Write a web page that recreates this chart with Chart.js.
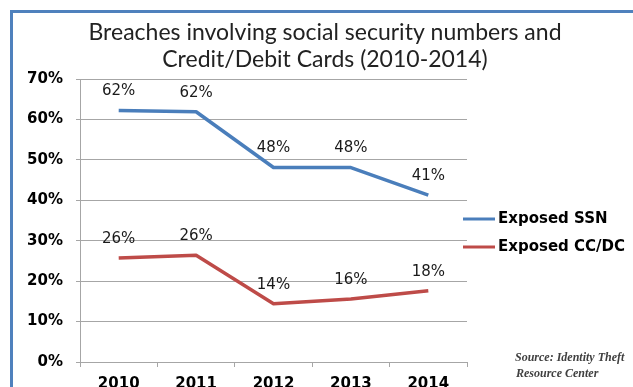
<!DOCTYPE html>
<html lang="en">
<head>
<meta charset="UTF-8">
<title>Breaches involving SSN and Credit/Debit Cards</title>
<script src="https://cdn.jsdelivr.net/npm/chart.js@4"></script>
<style>
    body { margin: 0; background: #fff; }
    .wrap { position: relative; width: 633px; height: 387px; overflow: hidden; background: #fff; }
    .frame { position: absolute; left: 10px; top: 10px; right: -10px; bottom: -10px; border-top: 3px solid #4f81bd; border-left: 3px solid #4f81bd; pointer-events: none; }
    canvas { display: block; }
</style>
</head>
<body>
<div class="wrap">
    <canvas id="chart" width="633" height="387"></canvas>
    <div class="frame"></div>
</div>
<script>
    const years = ['2010', '2011', '2012', '2013', '2014'];
    const ssnValues = [62.2, 61.9, 48.1, 48.1, 41.3];
    const ccValues = [25.7, 26.4, 14.4, 15.6, 17.6];
    const ssnText = ['62%', '62%', '48%', '48%', '41%'];
    const ccText = ['26%', '26%', '14%', '16%', '18%'];
    const yTickLabels = ['0%', '10%', '20%', '30%', '40%', '50%', '60%', '70%'];
    const titleLines = ['Breaches involving social security numbers and', 'Credit/Debit Cards (2010-2014)'];
    const sourceLines = ['Source: Identity Theft', 'Resource Center'];

    const axisFont = { family: 'DejaVu Sans', size: 15, weight: 'bold' };
    const gridGray = '#a6a6a6';

    // value labels above each point
    const pointText = {
        id: 'pointText',
        afterDatasetsDraw(chart) {
            const ctx = chart.ctx;
            ctx.save();
            ctx.font = '15px "DejaVu Sans"';
            ctx.fillStyle = '#1a1a1a';
            ctx.textAlign = 'center';
            ctx.textBaseline = 'middle';
            chart.data.datasets.forEach((ds, i) => {
                chart.getDatasetMeta(i).data.forEach((pt, j) => {
                    ctx.fillText(ds.pointText[j], pt.x, pt.y - 19);
                });
            });
            ctx.restore();
        }
    };

    // title, legend and source note
    const extras = {
        id: 'extras',
        afterDraw(chart) {
            const ctx = chart.ctx;
            ctx.save();
            ctx.fillStyle = '#222';
            ctx.textAlign = 'center';
            ctx.textBaseline = 'middle';
            ctx.font = '23px Lato';
            ctx.fillText(titleLines[0], 325, 33);
            ctx.fillText(titleLines[1], 325, 60);

            ctx.textAlign = 'left';
            ctx.font = axisFont.weight + ' ' + axisFont.size + 'px "' + axisFont.family + '"';
            chart.data.datasets.forEach((ds, i) => {
                const y = 219 + i * 28;
                ctx.strokeStyle = ds.borderColor;
                ctx.lineWidth = 3;
                ctx.beginPath();
                ctx.moveTo(463, y);
                ctx.lineTo(495, y);
                ctx.stroke();
                ctx.fillStyle = '#000';
                ctx.fillText(ds.label, 498, y);
            });

            ctx.font = 'italic bold 12px "Liberation Serif"';
            ctx.fillStyle = '#404040';
            ctx.fillText(sourceLines[0], 515, 358);
            ctx.fillText(sourceLines[1], 516, 374);
            ctx.restore();
        }
    };

    new Chart(document.getElementById('chart'), {
        type: 'line',
        data: {
            labels: years,
            datasets: [
                { label: 'Exposed SSN', data: ssnValues, pointText: ssnText, borderColor: '#4a7ebb', borderWidth: 3.5, pointRadius: 0, tension: 0, borderJoinStyle: 'round' },
                { label: 'Exposed CC/DC', data: ccValues, pointText: ccText, borderColor: '#be4b48', borderWidth: 3.5, pointRadius: 0, tension: 0, borderJoinStyle: 'round' }
            ]
        },
        options: {
            responsive: false,
            animation: false,
            layout: { padding: { left: 10, top: 79, right: 166, bottom: 0 } },
            plugins: { legend: { display: false }, tooltip: { enabled: false } },
            scales: {
                x: {
                    offset: true,
                    grid: { offset: true, drawOnChartArea: false, tickLength: 5, color: gridGray },
                    border: { color: gridGray },
                    ticks: { font: axisFont, color: '#000', padding: 8, maxRotation: 0 },
                    afterFit(s) { s.height = 25; }
                },
                y: {
                    min: 0, max: 70,
                    grid: { color: gridGray, tickLength: 4 },
                    border: { color: gridGray },
                    ticks: { stepSize: 10, font: axisFont, color: '#000', padding: 13, callback: (v, i) => yTickLabels[i] },
                    afterFit(s) { s.width = 70; }
                }
            }
        },
        plugins: [pointText, extras]
    });
</script>
</body>
</html>
